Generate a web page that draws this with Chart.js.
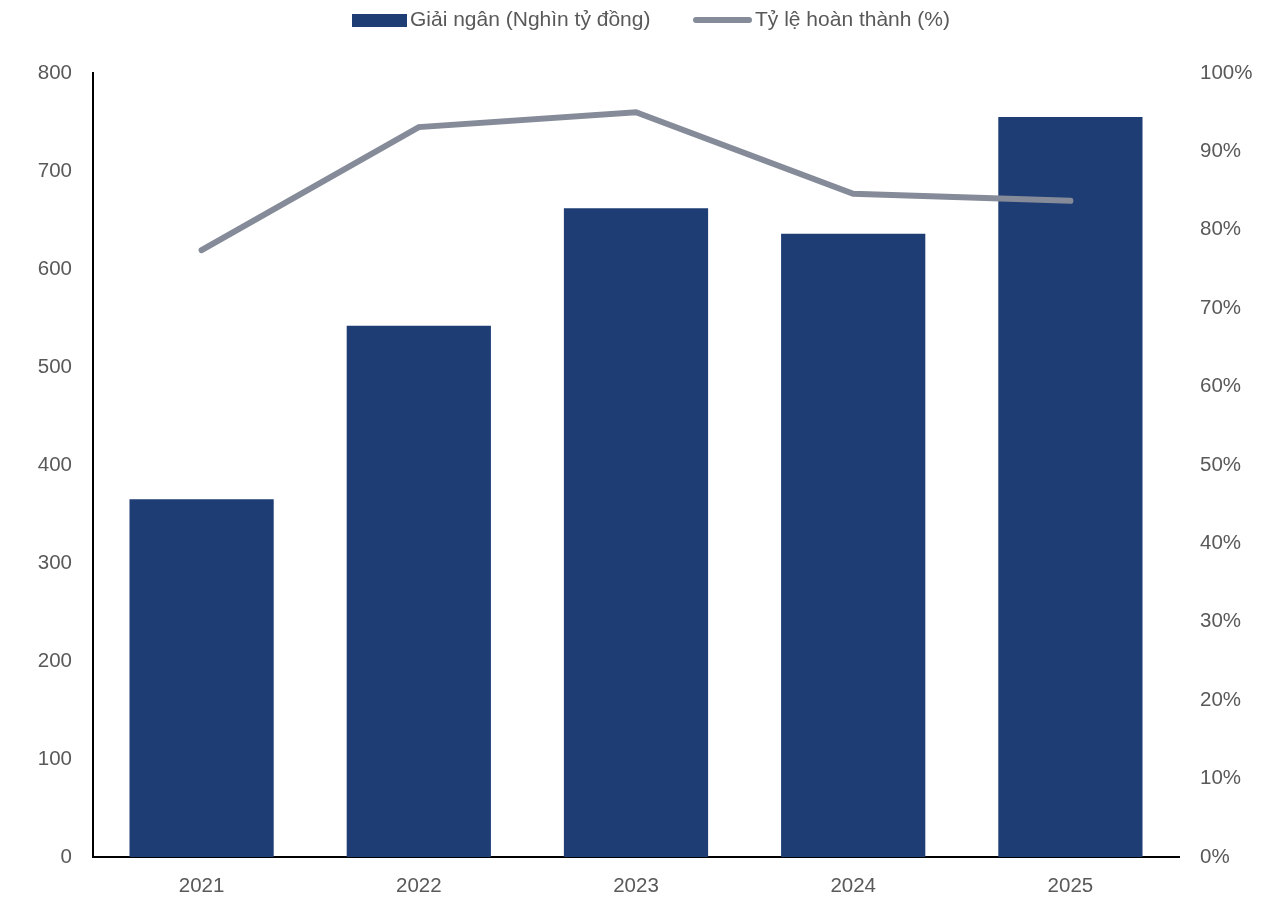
<!DOCTYPE html>
<html>
<head>
<meta charset="utf-8">
<script src="https://cdn.jsdelivr.net/npm/chart.js@4.4.1/dist/chart.umd.min.js"></script>
<style>
  html, body { margin: 0; padding: 0; background: #ffffff; }
  #wrap { width: 1282px; height: 897px; position: relative; }
</style>
</head>
<body>
<div id="wrap"><canvas id="chart"></canvas></div>
<script>
// Giải ngân vốn đầu tư công theo năm
const years = ['2021', '2022', '2023', '2024', '2025'];
const disbursement = [365, 542, 662, 636, 755];          // Nghìn tỷ đồng
const completionRate = [77.4, 93.1, 95.0, 84.6, 83.7];   // %

const seriesNames = ['Giải ngân (Nghìn tỷ đồng)', 'Tỷ lệ hoàn thành (%)'];

const BAR_COLOR = '#1e3d74';
const LINE_COLOR = '#858b98';
const TEXT_COLOR = '#595959';
const FONT = '"Liberation Sans", Arial, sans-serif';
const TICK_SIZE = 20.5;

// Legend drawn at the top of the canvas: a filled box for the bars, a rounded stroke for the line
const topLegend = {
  id: 'topLegend',
  afterDraw(chart) {
    const ctx = chart.ctx;
    ctx.save();
    ctx.font = '21px ' + FONT;
    ctx.textBaseline = 'middle';
    const cy = 20;

    ctx.fillStyle = BAR_COLOR;
    ctx.fillRect(352, 14, 55, 13);
    ctx.fillStyle = TEXT_COLOR;
    ctx.fillText(seriesNames[0], 410, cy);

    ctx.strokeStyle = LINE_COLOR;
    ctx.lineWidth = 6;
    ctx.lineCap = 'round';
    ctx.beginPath();
    ctx.moveTo(696, cy);
    ctx.lineTo(749, cy);
    ctx.stroke();
    ctx.fillText(seriesNames[1], 755, cy);
    ctx.restore();
  }
};

new Chart(document.getElementById('chart'), {
  type: 'bar',
  data: {
    labels: years,
    datasets: [
      {
        type: 'line',
        label: seriesNames[1],
        data: completionRate,
        yAxisID: 'yRight',
        borderColor: LINE_COLOR,
        backgroundColor: LINE_COLOR,
        borderWidth: 6,
        borderCapStyle: 'round',
        borderJoinStyle: 'miter',
        pointRadius: 0,
        tension: 0,
        order: 0
      },
      {
        type: 'bar',
        label: seriesNames[0],
        data: disbursement,
        yAxisID: 'yLeft',
        backgroundColor: BAR_COLOR,
        borderWidth: 0,
        categoryPercentage: 1.0,
        barPercentage: 0.664,
        order: 1
      }
    ]
  },
  options: {
    responsive: true,
    maintainAspectRatio: false,
    animation: false,
    layout: { padding: { top: 73, left: 0, right: 0, bottom: 0 } },
    plugins: {
      legend: { display: false },
      tooltip: { enabled: false }
    },
    scales: {
      x: {
        grid: { display: false, drawTicks: false },
        border: { display: true, color: '#000000', width: 2 },
        ticks: { color: TEXT_COLOR, font: { family: FONT, size: TICK_SIZE }, padding: 17 },
        afterFit(scale) { scale.height = 40; }
      },
      yLeft: {
        position: 'left',
        min: 0,
        max: 800,
        grid: { display: false, drawTicks: false },
        border: { display: true, color: '#000000', width: 2 },
        ticks: { stepSize: 100, color: TEXT_COLOR, font: { family: FONT, size: TICK_SIZE }, padding: 21 },
        afterFit(scale) { scale.width = 93; }
      },
      yRight: {
        position: 'right',
        min: 0,
        max: 100,
        grid: { display: false, drawTicks: false },
        border: { display: false },
        ticks: {
          stepSize: 10,
          color: TEXT_COLOR,
          font: { family: FONT, size: TICK_SIZE },
          padding: 21,
          callback: (v) => v + '%'
        },
        afterFit(scale) { scale.width = 103; }
      }
    }
  },
  plugins: [topLegend]
});
</script>
</body>
</html>
